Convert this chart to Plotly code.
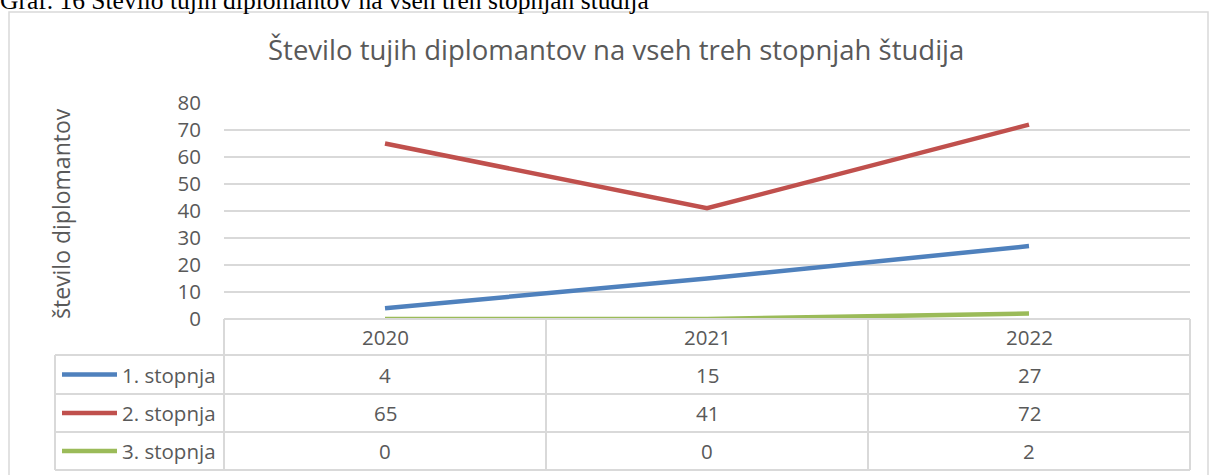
import plotly.graph_objects as go

W, H = 1209, 475

years = ["2020", "2021", "2022"]
series_names = ["1. stopnja", "2. stopnja", "3. stopnja"]
stopnja1 = [4, 15, 27]
stopnja2 = [65, 41, 72]
stopnja3 = [0, 0, 2]
series_values = [stopnja1, stopnja2, stopnja3]
colors = ["#4F81BD", "#C0504D", "#9BBB59"]

title_text = "Število tujih diplomantov na vseh treh stopnjah študija"
caption_text = "Graf. 16 Število tujih diplomantov na vseh treh stopnjah študija"
ytitle = "število diplomantov"

FONT = "Open Sans"
GREY = "#595959"
LINE = "#d9d9d9"
TS = 20.5  # table / tick font size


def px(x):
    return x / W


def py(y):
    return 1 - y / H


plot_l, plot_r, plot_t, plot_b = 224, 1190, 103, 319
table_l = 55
row_edges = [319, 355, 394, 432, 470]

fig = go.Figure()
for name, vals, c in zip(series_names, series_values, colors):
    fig.add_trace(go.Scatter(
        x=years, y=vals, mode="lines", name=name,
        line=dict(color=c, width=4.5),
        showlegend=False, hoverinfo="x+y+name",
    ))

shapes = []
# outer chart frame
shapes.append(dict(type="rect", xref="paper", yref="paper",
                   x0=px(9), x1=px(1208), y0=py(490), y1=py(12),
                   line=dict(color=LINE, width=1.5), layer="below"))
# table horizontal lines
shapes.append(dict(type="line", xref="paper", yref="paper",
                   x0=px(plot_l), x1=px(plot_r), y0=py(row_edges[0]), y1=py(row_edges[0]),
                   line=dict(color=LINE, width=2)))
for ye in row_edges[1:]:
    shapes.append(dict(type="line", xref="paper", yref="paper",
                       x0=px(table_l), x1=px(plot_r), y0=py(ye), y1=py(ye),
                       line=dict(color=LINE, width=2)))
# table vertical lines
shapes.append(dict(type="line", xref="paper", yref="paper",
                   x0=px(table_l), x1=px(table_l), y0=py(row_edges[1]), y1=py(row_edges[-1]),
                   line=dict(color=LINE, width=2)))
col_w = (plot_r - plot_l) / len(years)
for i in range(len(years) + 1):
    xx = plot_l + i * col_w
    shapes.append(dict(type="line", xref="paper", yref="paper",
                       x0=px(xx), x1=px(xx), y0=py(row_edges[0]), y1=py(row_edges[-1]),
                       line=dict(color=LINE, width=2)))
# legend keys
for r, c in enumerate(colors):
    yc = (row_edges[r + 1] + row_edges[r + 2]) / 2
    shapes.append(dict(type="line", xref="paper", yref="paper",
                       x0=px(62), x1=px(117), y0=py(yc), y1=py(yc),
                       line=dict(color=c, width=4.5)))

annotations = []
tfont = dict(family=FONT, size=TS, color=GREY)
# header years
hc = (row_edges[0] + row_edges[1]) / 2
for i, yr in enumerate(years):
    annotations.append(dict(x=i, xref="x", y=py(hc), yref="paper", text=yr,
                            showarrow=False, font=tfont,
                            xanchor="center", yanchor="middle"))
for r, (name, vals) in enumerate(zip(series_names, series_values)):
    yc = (row_edges[r + 1] + row_edges[r + 2]) / 2
    annotations.append(dict(x=px(218), xref="paper", y=py(yc), yref="paper", text=name,
                            showarrow=False, font=tfont,
                            xanchor="right", yanchor="middle"))
    for i, v in enumerate(vals):
        annotations.append(dict(x=i, xref="x", y=py(yc), yref="paper", text=str(v),
                                showarrow=False, font=tfont,
                                xanchor="center", yanchor="middle"))
# y axis title
annotations.append(dict(x=px(61), xref="paper", y=py(214), yref="paper", text=ytitle,
                        textangle=-90, showarrow=False,
                        font=dict(family=FONT, size=23, color=GREY),
                        xanchor="center", yanchor="middle"))
# chart title
annotations.append(dict(x=px(616), xref="paper", y=py(49), yref="paper", text=title_text,
                        showarrow=False, font=dict(family=FONT, size=27.5, color=GREY),
                        xanchor="center", yanchor="middle"))

fig.update_layout(
    width=W, height=H,
    margin=dict(l=0, r=0, t=0, b=0),
    paper_bgcolor="white", plot_bgcolor="white",
    # cropped document caption at the very top of the image
    title=dict(text=caption_text, x=0, xanchor="left", xref="container",
               y=1, yanchor="middle", yref="container", automargin=False,
               font=dict(family="Liberation Serif", size=25.5, color="#000000")),
    xaxis=dict(type="category", categoryorder="array", categoryarray=years,
               range=[-0.5, 2.5], domain=[px(plot_l), px(plot_r)],
               showticklabels=False, showgrid=False, zeroline=False, showline=False,
               ticks="", automargin=False),
    yaxis=dict(range=[0, 80], dtick=10, domain=[py(plot_b), py(plot_t)],
               showgrid=True, gridcolor=LINE, gridwidth=1.5,
               zeroline=False, showline=False, ticks="",
               ticklabelstandoff=22, automargin=False,
               tickfont=dict(family=FONT, size=TS, color=GREY)),
    shapes=shapes,
    annotations=annotations,
    showlegend=False,
)

fig.write_html("out.html", config={"displayModeBar": False},
               post_script="document.body.style.margin='0px';")
